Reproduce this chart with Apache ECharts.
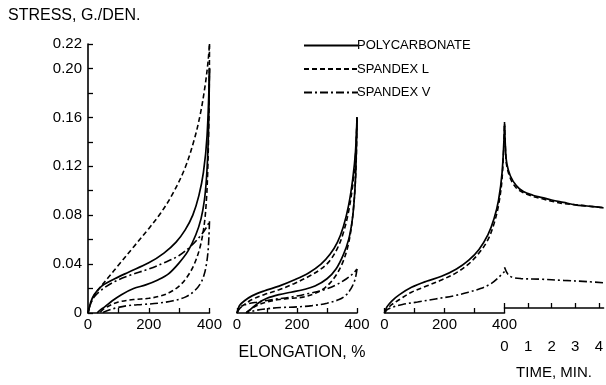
<!DOCTYPE html>
<html><head><meta charset="utf-8">
<script src="https://cdn.jsdelivr.net/npm/echarts@6/dist/echarts.min.js"></script>
<style>html,body{margin:0;padding:0;background:#fff}#c{width:606px;height:385px}</style>
</head><body><div id="c"></div>
<script>
// ---- tick labels ----
const stressLabels = [0, 0.04, 0.08, 0.12, 0.16, 0.20, 0.22];
const elongLabels = [0, 200, 400];
const timeLabels = [0, 1, 2, 3, 4];
const seriesNames = ['POLYCARBONATE', 'SPANDEX L', 'SPANDEX V'];

// ---- panel 1: first cycle (elongation %, stress g/den) ----
const c1PolyLoadE = [0,8,20,45,80,130,200,250,290,320,345,365,380,392,400];
const c1PolyLoadS = [0,0.008,0.015,0.022,0.027,0.033,0.041,0.049,0.058,0.068,0.080,0.096,0.115,0.145,0.20];
const c1PolyUnloadE = [400,398,395,390,383,372,355,330,300,265,230,190,150,110,80,55,38,30];
const c1PolyUnloadS = [0.20,0.165,0.135,0.11,0.092,0.077,0.064,0.051,0.041,0.032,0.027,0.023,0.020,0.015,0.010,0.005,0.002,0];
const c1SpanLLoadE = [0,8,20,40,70,100,150,200,240,280,320,350,370,385,395,400];
const c1SpanLLoadS = [0,0.007,0.014,0.021,0.030,0.039,0.054,0.069,0.082,0.098,0.119,0.142,0.163,0.185,0.205,0.22];
const c1SpanLUnloadE = [400,399,397,394,390,383,370,350,325,300,270,240,200,150,100,70,50,38];
const c1SpanLUnloadS = [0.22,0.18,0.145,0.115,0.093,0.073,0.055,0.040,0.029,0.022,0.017,0.014,0.012,0.011,0.009,0.006,0.003,0];
const c1SpanVLoadE = [0,8,20,45,90,140,200,250,300,340,370,390,400];
const c1SpanVLoadS = [0,0.007,0.013,0.019,0.026,0.031,0.036,0.041,0.047,0.055,0.063,0.070,0.075];
const c1SpanVUnloadE = [400,398,395,390,382,370,350,320,280,230,180,130,90,65,45];
const c1SpanVUnloadS = [0.075,0.062,0.050,0.040,0.031,0.024,0.018,0.013,0.010,0.008,0.007,0.006,0.004,0.002,0];

// ---- panel 2: second cycle ----
const c2LoadE = [0,8,25,50,90,140,190,240,280,310,335,355,372,386,395,400];
const c2PolyLoadS = [0,0.006,0.010,0.014,0.018,0.022,0.027,0.033,0.040,0.048,0.058,0.071,0.088,0.110,0.132,0.16];
const c2SpanLLoadS = [0,0.004,0.007,0.011,0.015,0.019,0.024,0.030,0.036,0.043,0.053,0.066,0.083,0.105,0.128,0.16];
const c2PolyUnloadE = [400,398,395,390,383,372,355,330,300,260,220,180,140,100,70,45,30];
const c2PolyUnloadS = [0.16,0.135,0.11,0.09,0.074,0.060,0.048,0.036,0.028,0.022,0.019,0.017,0.015,0.012,0.008,0.003,0];
const c2SpanLUnloadE = [400,398,394,388,380,368,350,325,295,260,220,180,140,100,65,40,28];
const c2SpanLUnloadS = [0.16,0.13,0.105,0.085,0.068,0.053,0.040,0.029,0.021,0.016,0.013,0.012,0.011,0.009,0.006,0.002,0];
const c2SpanVLoadE = [0,10,30,70,120,180,240,290,330,365,390,400];
const c2SpanVLoadS = [0,0.004,0.007,0.009,0.011,0.013,0.016,0.019,0.023,0.028,0.033,0.036];
const c2SpanVUnloadE = [400,396,390,380,365,340,300,250,200,150,100,60,35];
const c2SpanVUnloadS = [0.036,0.030,0.025,0.020,0.015,0.011,0.008,0.006,0.005,0.0045,0.0035,0.002,0];

// ---- panel 3: loading then stress relaxation ----
const c3LoadE = [0,8,25,50,90,140,190,240,280,315,345,365,380,392,400];
const c3PolyLoadS = [0,0.005,0.010,0.015,0.021,0.026,0.030,0.036,0.043,0.052,0.064,0.077,0.092,0.115,0.153];
const c3SpanLLoadS = [0,0.003,0.007,0.011,0.017,0.022,0.027,0.033,0.040,0.049,0.060,0.073,0.088,0.110,0.153];
const c3SpanVLoadE = [0,10,30,60,110,170,230,280,320,355,380,400];
const c3SpanVLoadS = [0,0.003,0.005,0.007,0.009,0.0115,0.014,0.017,0.020,0.024,0.029,0.034];
const relaxT = [0,0.05,0.1,0.25,0.5,0.8,1.2,1.6,2.0,2.5,3.0,3.5,4.0,4.2];
const relaxPolyS = [0.153,0.13,0.12,0.110,0.102,0.097,0.094,0.092,0.090,0.088,0.086,0.085,0.084,0.0835];
const relaxSpanLS = [0.155,0.128,0.118,0.108,0.100,0.096,0.093,0.091,0.089,0.087,0.086,0.085,0.084,0.0835];
const relaxVT = [0,0.15,0.35,0.7,1.5,2.5,3.5,4.2];
const relaxSpanVS = [0.034,0.028,0.0255,0.0245,0.024,0.023,0.022,0.021];

(function(){
const FONT = 'Liberation Sans, Arial, sans-serif';
const styles = {
  'POLYCARBONATE': {color:'#000', width:1.7, type:'solid'},
  'SPANDEX L': {color:'#000', width:1.6, type:[5,3]},
  'SPANDEX V': {color:'#000', width:1.6, type:[8,3,2,3]}
};
const zip = (a,b) => a.map((v,i)=>[v,b[i]]);
function line(name, idx, xs, ys){
  return {type:'line', name, xAxisIndex:idx, yAxisIndex:idx, data:zip(xs,ys),
    symbol:'none', smooth:0.35, lineStyle:styles[name], itemStyle:{color:'#000'}, z:3};
}
const gTop = 44, gHeight = 269;
const grids = [
  {left:88, top:gTop, width:121.5, height:gHeight},
  {left:237, top:gTop, width:120, height:gHeight},
  {left:384.5, top:gTop, width:120, height:gHeight},
  {left:504.5, top:gTop, width:102, height:gHeight}
];
const axLine = {show:true, lineStyle:{color:'#000', width:1.6}};
const tick = {show:true, inside:true, length:5, lineStyle:{color:'#000', width:1.3}};
const lbl = {color:'#000', fontSize:15, fontFamily:FONT};
function elongAxis(i, extra){
  return Object.assign({type:'value', gridIndex:i, min:0, max:400, interval:100,
    axisLine:axLine, axisTick:tick, splitLine:{show:false},
    axisLabel:Object.assign({}, lbl, {margin:4, showMaxLabel:true,
      formatter:v => elongLabels.includes(v) ? String(v) : ''})}, extra||{});
}
const xAxes = [
  elongAxis(0),
  elongAxis(1, {name:'ELONGATION, %', nameLocation:'middle', nameGap:32,
    nameTextStyle:{color:'#000', fontSize:16, fontFamily:FONT, padding:[0,0,0,10]}}),
  elongAxis(2),
  {type:'value', gridIndex:3, min:0, max:4.2, interval:1,
    axisLine:axLine, axisTick:tick, splitLine:{show:false},
    axisLabel:Object.assign({}, lbl, {margin:31, showMaxLabel:false,
      formatter:v => timeLabels.includes(v) ? String(v) : ''}),
    name:'TIME, MIN.', nameLocation:'middle', nameGap:57,
    nameTextStyle:{color:'#000', fontSize:15, fontFamily:FONT}}
];
const yAxes = [0,1,2,3].map(i => ({type:'value', gridIndex:i, min:0, max:0.22, interval:0.02,
  show:i===0, axisLine:axLine, axisTick:tick, splitLine:{show:false},
  axisLabel:Object.assign({}, lbl, {margin:6, showMaxLabel:true,
    formatter:v => { const r = Math.round(v*100)/100; return stressLabels.includes(r) ? (r===0?'0':r.toFixed(2)) : ''; }})}));

const series = [
  line('POLYCARBONATE',0,c1PolyLoadE,c1PolyLoadS),
  line('POLYCARBONATE',0,c1PolyUnloadE,c1PolyUnloadS),
  line('SPANDEX L',0,c1SpanLLoadE,c1SpanLLoadS),
  line('SPANDEX L',0,c1SpanLUnloadE,c1SpanLUnloadS),
  line('SPANDEX V',0,c1SpanVLoadE,c1SpanVLoadS),
  line('SPANDEX V',0,c1SpanVUnloadE,c1SpanVUnloadS),
  line('POLYCARBONATE',1,c2LoadE,c2PolyLoadS),
  line('POLYCARBONATE',1,c2PolyUnloadE,c2PolyUnloadS),
  line('SPANDEX L',1,c2LoadE,c2SpanLLoadS),
  line('SPANDEX L',1,c2SpanLUnloadE,c2SpanLUnloadS),
  line('SPANDEX V',1,c2SpanVLoadE,c2SpanVLoadS),
  line('SPANDEX V',1,c2SpanVUnloadE,c2SpanVUnloadS),
  line('POLYCARBONATE',2,c3LoadE,c3PolyLoadS),
  line('SPANDEX L',2,c3LoadE,c3SpanLLoadS),
  line('SPANDEX V',2,c3SpanVLoadE,c3SpanVLoadS),
  line('POLYCARBONATE',3,relaxT,relaxPolyS),
  line('SPANDEX L',3,relaxT,relaxSpanLS),
  line('SPANDEX V',3,relaxVT,relaxSpanVS)
];

const chart = echarts.init(document.getElementById('c'), null, {renderer:'canvas'});
chart.setOption({
  animation:false,
  backgroundColor:'#fff',
  textStyle:{fontFamily:FONT, color:'#000'},
  grid:grids,
  xAxis:xAxes,
  yAxis:yAxes,
  legend:{data:seriesNames, orient:'vertical', left:298, top:34, itemWidth:54, itemHeight:12,
    itemGap:10.5, itemStyle:{opacity:0},
    textStyle:{color:'#000', fontSize:13, fontFamily:FONT, padding:[0,0,0,-6]}},
  graphic:[{type:'text', left:8, top:8, style:{text:'STRESS, G./DEN.', fill:'#000',
    font:'16px ' + FONT}}],
  series
});
})();
</script></body></html>
